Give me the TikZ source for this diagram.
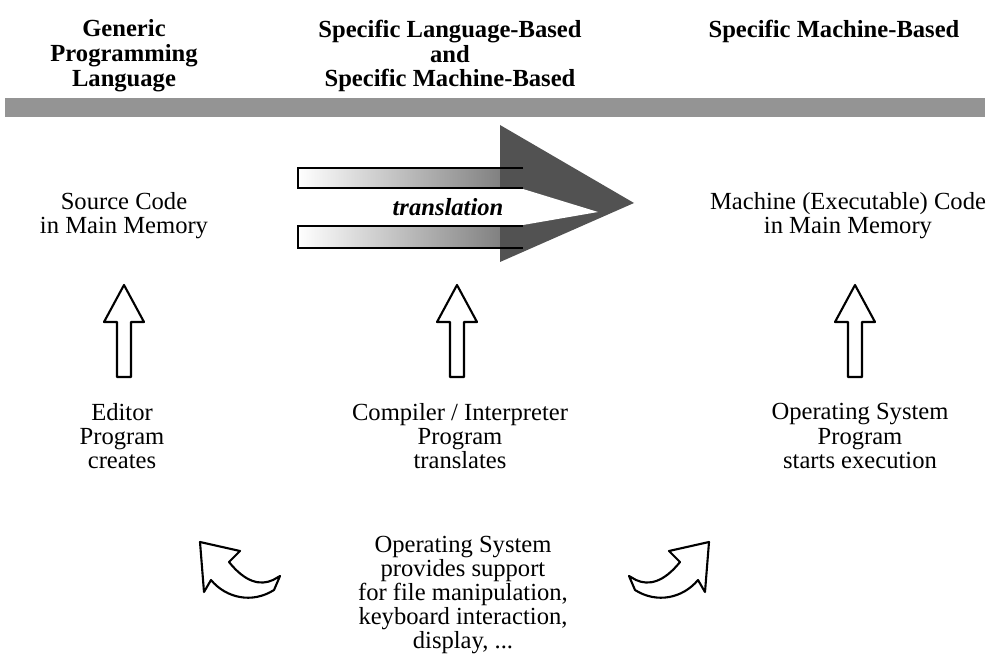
\documentclass[tikz,border=0pt]{standalone}
\usepackage{fontspec}
\setmainfont{Liberation Serif}
\begin{document}
\begin{tikzpicture}[x=0.02cm, y=-0.02cm,
    hdr/.style={font=\fontsize{14}{14.2}\selectfont\bfseries, align=center},
    txt/.style={font=\fontsize{14}{13.7}\selectfont, align=center},
    hollow/.style={draw, line width=1.2pt, fill=white, line join=round}
  ]
  \useasboundingbox (0,0) rectangle (990,658);
  \node[hdr] (generic) at (124,56) {Generic\\Programming\\Language};
  \node[hdr] (langmach) at (450,56) {Specific Language-Based\\and\\Specific Machine-Based};
  \node[hdr] (machbased) at (834,31) {Specific Machine-Based};
  \fill[black!42] (5,98) rectangle (985,117);
  \shade[left color=white, middle color=gray!40, right color=black!55] (298,168) rectangle (523,188);
  \shade[left color=white, middle color=gray!40, right color=black!55] (298,226) rectangle (523,248);
  \fill[black!68] (500,125) -- (634,203) -- (500,262) -- cycle;
  \fill[white] (298,189) -- (523,189) -- (598,212) -- (523,225) -- (298,225) -- cycle;
  \draw[line width=1pt] (523,168) -- (298,168) -- (298,188) -- (523,188);
  \draw[line width=1pt] (523,226) -- (298,226) -- (298,248) -- (523,248);
  \node[font=\fontsize{14}{14}\selectfont\bfseries\itshape] (transl) at (448,207) {translation};
  \node[txt] (src) at (124,216) {Source Code\\in Main Memory};
  \node[txt] (exe) at (848,216) {Machine (Executable) Code\\in Main Memory};
  \foreach \x in {124,457,855}
    \draw[hollow] (\x,285) -- (\x+20,322) -- (\x+7,322) -- (\x+7,377) -- (\x-7,377) -- (\x-7,322) -- (\x-20,322) -- cycle;
  \node[txt] (editor) at (122,436) {Editor\\Program\\creates};
  \node[txt] (compiler) at (460,436) {Compiler / Interpreter\\Program\\translates};
  \node[txt] (opsys) at (860,436) {Operating System\\Program\\starts execution};
  \node[txt] (support) at (463,595) {Operating System\\provides support\\for file manipulation,\\keyboard interaction,\\display, ...};
  \foreach \s/\o in {1/0,-1/909} {
    \begin{scope}[shift={(\o,0)}, xscale=\s]
      \draw[hollow] (200,542) -- (240,551) -- (229,562) .. controls (245,582) and (260,586) .. (273,580)
        -- (280,576) -- (274,590) .. controls (252,604) and (226,598) .. (211,580) -- (204,592) -- cycle;
    \end{scope}
  }
\end{tikzpicture}
\end{document}
